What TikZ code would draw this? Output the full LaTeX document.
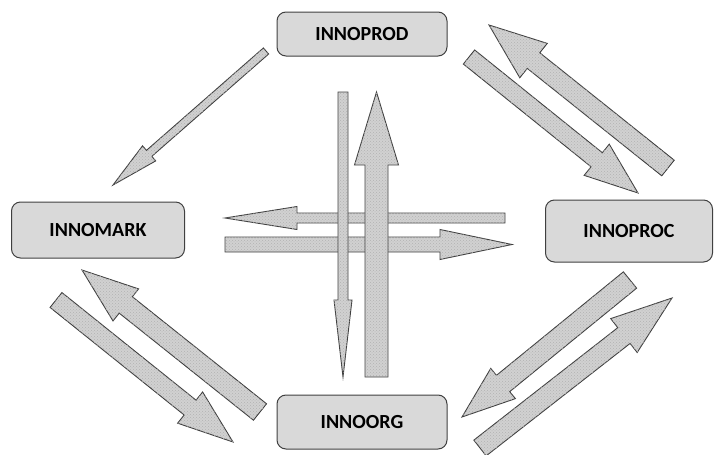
\documentclass[tikz,border=0pt]{standalone}
\usepackage{fontspec}
\setmainfont{Carlito}
\usetikzlibrary{calc,patterns}

\tikzset{
    unit/.style={draw=black!75, fill=black!15, line width=1pt, rounded corners=9pt,
        minimum width=170pt, font=\bfseries\fontsize{20}{24}\selectfont},
    blockarrow/.style={draw=black!75, line width=0.9pt, fill=black!18,
        postaction={pattern=crosshatch dots, pattern color=black!30}}
}

% tail, tip, half shaft, half head, head length
\newcommand{\blockarrow}[5]{%
    \coordinate (hb) at ($(#2)!#5!(#1)$);
    \draw[blockarrow] ($(#1)!#3!90:(#2)$) -- ($(hb)!#3!-90:(#1)$)
        -- ($(hb)!#4!-90:(#1)$) -- (#2) -- ($(hb)!#4!90:(#1)$)
        -- ($(hb)!#3!90:(#1)$) -- ($(#1)!#3!-90:(#2)$) -- cycle;
}

\begin{document}
\begin{tikzpicture}[x=1pt, y=-1pt]
            \useasboundingbox (0,0) rectangle (716,455);

            % Units
            \node[unit, minimum height=44pt] (prod) at (362,34) {INNOPROD};
            \node[unit, minimum width=173pt, minimum height=56pt] (mark) at (98,230) {INNOMARK};
            \node[unit, minimum width=167pt, minimum height=62pt] (proc) at (629,231) {INNOPROC};
            \node[unit, minimum height=54pt] (org) at (362,422) {INNOORG};

            % Arrow ends
            \coordinate (pm-t) at (266,51);   \coordinate (pm-h) at (113,185);
            \coordinate (pp-t) at (469,57);   \coordinate (pp-h) at (638,193);
            \coordinate (cp-t) at (668,168);  \coordinate (cp-h) at (489,25);
            \coordinate (cm-t) at (505,218);  \coordinate (cm-h) at (225,218);
            \coordinate (mc-t) at (225,244.5);\coordinate (mc-h) at (512,244.5);
            \coordinate (po-t) at (343,92);   \coordinate (po-h) at (343,377);
            \coordinate (op-t) at (376.5,377);\coordinate (op-h) at (376.5,92);
            \coordinate (om-t) at (260,412);  \coordinate (om-h) at (82,270);
            \coordinate (mo-t) at (56,300);   \coordinate (mo-h) at (233,442);
            \coordinate (co-t) at (630,280);  \coordinate (co-h) at (462,417);
            \coordinate (oc-t) at (480,448);  \coordinate (oc-h) at (672,298);

            \blockarrow{pm-t}{pm-h}{4pt}{10pt}{48pt}
            \blockarrow{pp-t}{pp-h}{9pt}{20pt}{53pt}
            \blockarrow{cp-t}{cp-h}{10pt}{22pt}{57pt}
            \blockarrow{cm-t}{cm-h}{5pt}{11.5pt}{72pt}
            \blockarrow{mc-t}{mc-h}{7.5pt}{15pt}{72pt}
            \blockarrow{po-t}{po-h}{5pt}{9pt}{77pt}
            \blockarrow{op-t}{op-h}{11.5pt}{22pt}{73pt}
            \blockarrow{om-t}{om-h}{10.5pt}{20.5pt}{56pt}
            \blockarrow{mo-t}{mo-h}{9.5pt}{20pt}{55pt}
            \blockarrow{co-t}{co-h}{10.5pt}{19.5pt}{53pt}
            \blockarrow{oc-t}{oc-h}{10pt}{21.5pt}{61pt}

        \end{tikzpicture}
\end{document}
